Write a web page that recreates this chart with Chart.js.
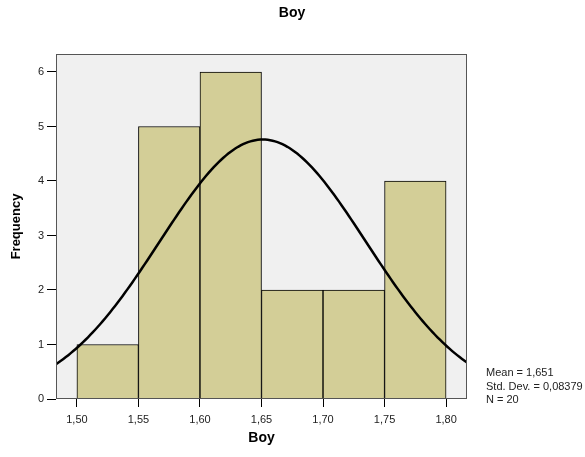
<!DOCTYPE html>
<html>
<head>
<meta charset="utf-8">
<script src="https://cdn.jsdelivr.net/npm/chart.js@4"></script>
<style>
  html, body { margin: 0; padding: 0; background: #fff; }
  #wrap { width: 585px; height: 457px; }
</style>
</head>
<body>
<div id="wrap"><canvas id="histChart" width="585" height="457"></canvas></div>
<script>
// histogram bins (lower edge) and counts
const binStarts = [1.50, 1.55, 1.60, 1.65, 1.70, 1.75];
const binWidth = 0.05;
const counts = [1, 5, 6, 2, 2, 4];

const xTicks = [1.50, 1.55, 1.60, 1.65, 1.70, 1.75, 1.80];
const yTicks = [0, 1, 2, 3, 4, 5, 6];

// summary stats printed beside the chart
const mean = 1.651;
const stdDev = 0.08379;
const n = 20;
const statLines = ['Mean = 1,651', 'Std. Dev. = 0,08379', 'N = 20'];

const xMin = 1.483, xMax = 1.817;
const yMax = 6.33;

// fitted normal curve, scaled to counts per bin
const curve = [];
for (let x = xMin; x <= xMax + 1e-9; x += 0.002) {
  const z = (x - mean) / stdDev;
  const y = n * binWidth / (stdDev * Math.sqrt(2 * Math.PI)) * Math.exp(-0.5 * z * z);
  curve.push({ x: x, y: y });
}

const bars = binStarts.map((s, i) => ({ x: s + binWidth / 2, y: counts[i] }));

const font = 'Arial, "Liberation Sans", sans-serif';
const comma = v => v.toFixed(2).replace('.', ',');

const frame = {
  id: 'frame',
  beforeDraw(chart) {
    const { ctx, chartArea: a } = chart;
    ctx.save();
    ctx.fillStyle = '#f0f0f0';
    ctx.fillRect(a.left, a.top, a.right - a.left, a.bottom - a.top);
    ctx.restore();
  },
  afterDraw(chart) {
    const { ctx, chartArea: a } = chart;
    ctx.save();
    ctx.strokeStyle = '#555';
    ctx.lineWidth = 1;
    ctx.strokeRect(a.left + 0.5, a.top + 0.5, a.right - a.left - 1, a.bottom - a.top - 1);
    ctx.fillStyle = '#000';
    ctx.font = 'bold 14px ' + font;
    ctx.textAlign = 'center';
    ctx.textBaseline = 'middle';
    ctx.fillText('Boy', 292, 13);
    ctx.font = '11px ' + font;
    ctx.fillStyle = '#222';
    ctx.textAlign = 'left';
    statLines.forEach((t, i) => ctx.fillText(t, 486, 373 + i * 13.5));
    ctx.restore();
  }
};

new Chart(document.getElementById('histChart'), {
  data: {
    datasets: [
      {
        type: 'line',
        data: curve,
        borderColor: '#000',
        borderWidth: 2.5,
        pointRadius: 0,
        tension: 0,
        order: 0
      },
      {
        type: 'bar',
        data: bars,
        backgroundColor: '#d3ce97',
        borderColor: '#000',
        borderWidth: 1,
        barPercentage: 1,
        categoryPercentage: 1,
        order: 1
      }
    ]
  },
  options: {
    responsive: false,
    animation: false,
    layout: { padding: { left: 0, right: 118, top: 54, bottom: 6 } },
    plugins: { legend: { display: false }, tooltip: { enabled: false } },
    scales: {
      x: {
        type: 'linear',
        min: xMin,
        max: xMax,
        offset: false,
        afterBuildTicks: s => { s.ticks = xTicks.map(v => ({ value: v })); },
        afterFit: s => { s.height = 52; },
        ticks: { color: '#222', font: { family: font, size: 11 }, callback: v => comma(v), maxRotation: 0, padding: 6 },
        grid: { drawOnChartArea: false, offset: false, color: '#000', tickLength: 8 },
        border: { display: false },
        title: { display: true, text: 'Boy', color: '#000', font: { family: font, size: 14, weight: 'bold' }, padding: { top: 2 } }
      },
      y: {
        min: 0,
        max: yMax,
        afterBuildTicks: s => { s.ticks = yTicks.map(v => ({ value: v })); },
        afterFit: s => { s.width = 56; },
        ticks: { color: '#222', font: { family: font, size: 11 }, padding: 3 },
        grid: { drawOnChartArea: false, color: '#000', tickLength: 9 },
        border: { display: false },
        title: { display: true, text: 'Frequency', color: '#000', font: { family: font, size: 13, weight: 'bold' }, padding: { top: 9, bottom: 0 } }
      }
    }
  },
  plugins: [frame]
});
</script>
</body>
</html>
